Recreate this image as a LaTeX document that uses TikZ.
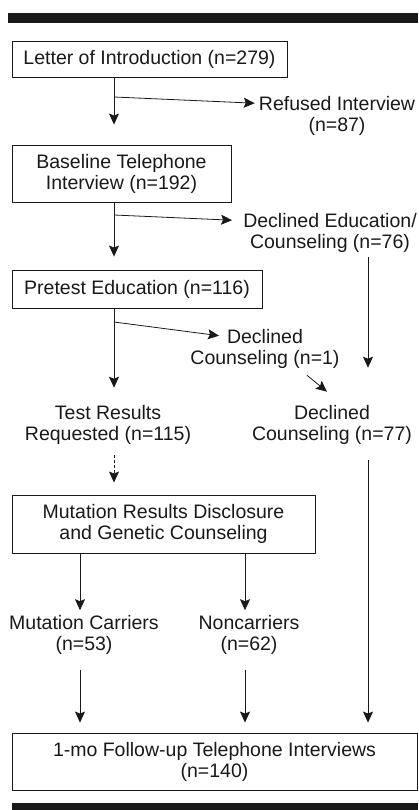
\documentclass[tikz,border=0pt]{standalone}
\usepackage{fontspec}
\setmainfont{Liberation Sans}
\usetikzlibrary{arrows.meta,calc}
\definecolor{ink}{RGB}{25,25,25}

\begin{document}
\begin{tikzpicture}[x=1pt,y=-1pt,>=Stealth,font=\fontsize{19.5}{21}\selectfont]
\tikzset{box/.style={draw=ink,line width=0.9pt,inner sep=0pt,align=center,text=ink},
  lbl/.style={inner sep=0pt,align=center,text=ink},
  arr/.style={-{Stealth[length=11pt,width=10pt,inset=2pt]},line width=0.8pt,draw=ink},
  dasharr/.style={arr,dash pattern=on 3pt off 2pt}}
\useasboundingbox (0,0) rectangle (418,810);
\fill[ink] (8,13) rectangle (418,23);
\fill[ink] (12,803) rectangle (418,810);
% columns and branch points
\coordinate (spine) at (114,0);\coordinate (rx) at (368,0);\coordinate (cx) at (80,0);\coordinate (nx) at (245,0);
\coordinate (j1) at (114,97);\coordinate (j2) at (114,215);\coordinate (j3) at (114,322);
% boxes
\node[box,minimum width=275pt,minimum height=36pt] (letter) at (149.5,59) {Letter of Introduction (n=279)};
\node[box,minimum width=219pt,minimum height=57pt] (baseline) at (121.5,173.5) {Baseline Telephone\\Interview (n=192)};
\node[box,minimum width=250pt,minimum height=38pt] (pretest) at (137,289) {Pretest Education (n=116)};
\node[box,minimum width=303pt,minimum height=58pt] (disclose) at (163.5,524) {Mutation Results Disclosure\\and Genetic Counseling};
\node[box,minimum width=405pt,minimum height=57pt] (followup) at (214.5,761.5) {1-mo Follow-up Telephone Interviews\\(n=140)};
% labels
\node[lbl] (refused) at (337,116) {Refused Interview\\(n=87)};
\node[lbl] (dec76) at (330,233) {Declined Education/\\Counseling (n=76)};
\node[lbl] (dec1) at (265,348.5) {Declined\\Counseling (n=1)};
\node[lbl] (tests) at (108,424.5) {Test Results\\Requested (n=115)};
\node[lbl] (dec77) at (332,424.5) {Declined\\Counseling (n=77)};
\node[lbl] (carriers) at (84,635) {Mutation Carriers\\(n=53)};
\node[lbl] (noncarr) at (249,635) {Noncarriers\\(n=62)};
% main column
\draw[arr,shorten >=20pt] (letter.south -| spine) -- (baseline.north -| spine);
\draw[arr,shorten >=13pt] (baseline.south -| spine) -- (pretest.north -| spine);
\draw[arr,shorten >=17pt] (pretest.south -| spine) -- (tests.north -| spine);
\draw[dasharr,shorten <=11pt,shorten >=12pt] (tests.south -| spine) -- (disclose.north -| spine);
\draw[arr,shorten >=5pt] (disclose.south -| cx) -- (carriers.north -| cx);
\draw[arr,shorten >=5pt] (disclose.south -| nx) -- (noncarr.north -| nx);
\draw[arr,shorten <=15pt,shorten >=10pt] (carriers.south -| cx) -- (followup.north -| cx);
\draw[arr,shorten <=15pt,shorten >=10pt] (noncarr.south -| nx) -- (followup.north -| nx);
% branches
\draw[arr] (j1) -- ($(refused.north west)+(-4,7)$);
\draw[arr] (j2) -- ($(dec76.north west)+(-11,7)$);
\draw[arr] (j3) -- ($(dec1.north)+(-46,7)$);
\draw[arr] ($(dec1.south)+(42,7)$) -- ($(dec77.north)+(-5,-13)$);
\draw[arr,shorten <=4.5pt,shorten >=37pt] (dec76.south -| rx) -- (dec77.north -| rx);
\draw[arr,shorten <=16pt,shorten >=10pt] (dec77.south -| rx) -- (followup.north -| rx);
\end{tikzpicture}
\end{document}
